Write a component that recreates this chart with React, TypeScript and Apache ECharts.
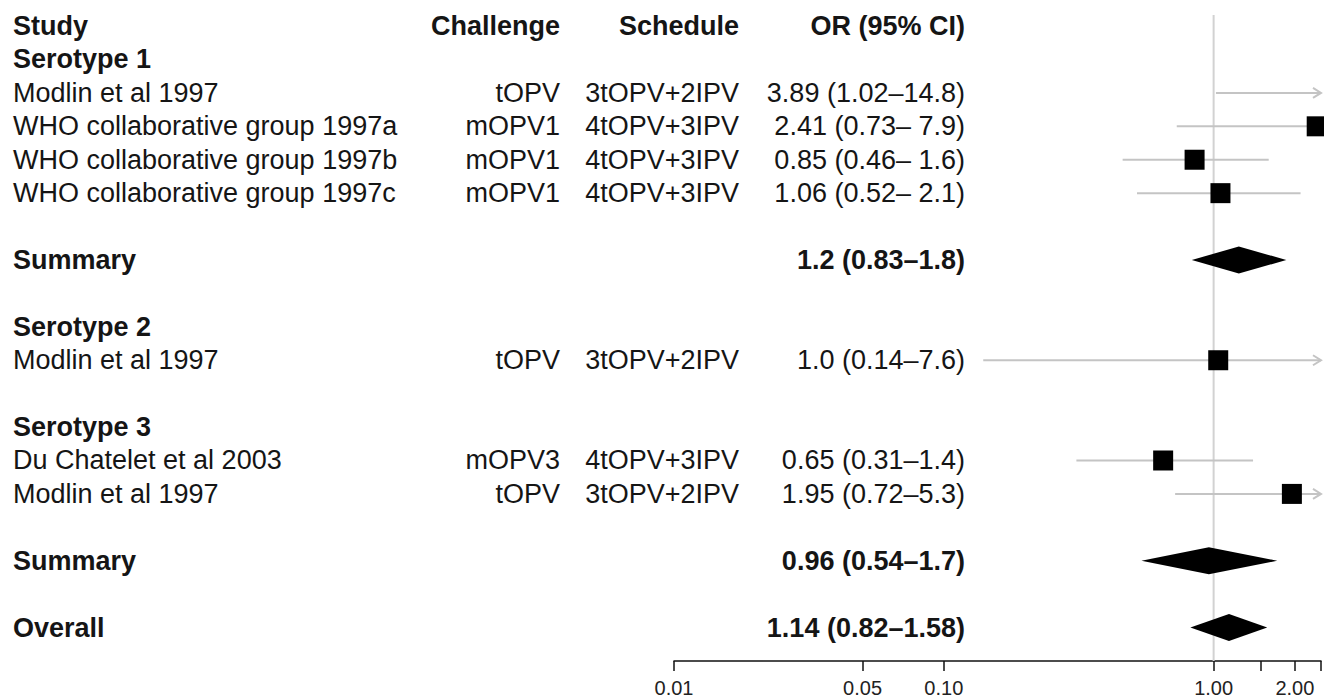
import React, { useEffect, useRef } from "react";
import * as echarts from "echarts";

// ---- Table text (one entry per row, row 0 = header) ----
const studyCol = [
  "Study", "Serotype 1", "Modlin et al 1997", "WHO collaborative group 1997a",
  "WHO collaborative group 1997b", "WHO collaborative group 1997c", "", "Summary", "",
  "Serotype 2", "Modlin et al 1997", "", "Serotype 3", "Du Chatelet et al 2003",
  "Modlin et al 1997", "", "Summary", "", "Overall",
];
const challengeCol = [
  "Challenge", "", "tOPV", "mOPV1", "mOPV1", "mOPV1", "", "", "",
  "", "tOPV", "", "", "mOPV3", "tOPV", "", "", "", "",
];
const scheduleCol = [
  "Schedule", "", "3tOPV+2IPV", "4tOPV+3IPV", "4tOPV+3IPV", "4tOPV+3IPV", "", "", "",
  "", "3tOPV+2IPV", "", "", "4tOPV+3IPV", "3tOPV+2IPV", "", "", "", "",
];
const orCol = [
  "OR (95% CI)", "", "3.89 (1.02\u201314.8)", "2.41 (0.73\u2013 7.9)", "0.85 (0.46\u2013 1.6)",
  "1.06 (0.52\u2013 2.1)", "", "1.2 (0.83\u20131.8)", "", "", "1.0 (0.14\u20137.6)", "", "",
  "0.65 (0.31\u20131.4)", "1.95 (0.72\u20135.3)", "", "0.96 (0.54\u20131.7)", "", "1.14 (0.82\u20131.58)",
];
const boldRows = [0, 1, 7, 9, 12, 16, 18];

// ---- Individual studies ----
const studyRows = [2, 3, 4, 5, 10, 13, 14];
const studyOR = [3.89, 2.41, 0.85, 1.06, 1.04, 0.65, 1.95];
const studyLo = [1.02, 0.73, 0.46, 0.52, 0.14, 0.31, 0.72];
const studyHi = [14.8, 7.9, 1.6, 2.1, 7.6, 1.4, 5.3];

// ---- Pooled estimates (diamonds) ----
const summaryRows = [7, 16, 18];
const summaryOR = [1.24, 0.96, 1.14];
const summaryLo = [0.83, 0.54, 0.82];
const summaryHi = [1.86, 1.72, 1.58];

// ---- Axis ----
const axisMin = 0.01;
const axisMax = 2.5;
const tickValues = [0.01, 0.05, 0.1, 1, 1.5, 2, 2.5];
const labelValues = [0.01, 0.05, 0.1, 1, 2];

const FONT = "'Liberation Sans', Arial, Helvetica, sans-serif";

export default function App() {
  const ref = useRef<HTMLDivElement>(null);

  useEffect(() => {
    const chart = echarts.init(ref.current!, null, { renderer: "svg" });
    const lg = Math.log10;
    const lmin = lg(axisMin);
    const lmax = lg(axisMax);

    const ciData = studyRows.map((r, i) => [
      lg(Math.max(studyLo[i], axisMin)),
      r,
      lg(Math.min(studyHi[i], axisMax)),
      studyHi[i] > axisMax ? 1 : 0,
    ]);
    const boxData = studyRows
      .map((r, i) => [lg(studyOR[i]), r])
      .filter((d) => d[0] <= lmax && d[0] >= lmin);
    const diamondData = summaryRows.map((r, i) => [
      lg(summaryLo[i]),
      r,
      lg(summaryOR[i]),
      lg(summaryHi[i]),
    ]);
    const textData = studyCol.map((_, r) => [lmin, r]);

    const textEl = (text: string, x: number, y: number, align: string, bold: boolean) => ({
      type: "text",
      x,
      y,
      style: {
        text,
        fill: "#151515",
        fontSize: 27,
        fontFamily: FONT,
        fontWeight: bold ? "bold" : "normal",
        align,
        verticalAlign: "middle",
        textAlign: align,
        textVerticalAlign: "middle",
      },
    });

    const option: any = {
      animation: false,
      backgroundColor: "#ffffff",
      grid: { left: 674, right: 3, top: 0, bottom: 38, containLabel: false },
      xAxis: {
        type: "value",
        min: lmin,
        max: lmax,
        splitLine: { show: false },
        axisLine: { show: true, onZero: false, lineStyle: { color: "#111", width: 1.5 } },
        axisTick: {
          show: true,
          customValues: tickValues.map(lg),
          length: 10,
          lineStyle: { color: "#111", width: 1.5 },
        },
        axisLabel: {
          customValues: labelValues.map(lg),
          formatter: (v: number) => Math.pow(10, v).toFixed(2),
          fontSize: 20,
          color: "#222",
          fontFamily: FONT,
          margin: 17,
        },
      },
      yAxis: {
        type: "value",
        min: -0.78,
        max: 19,
        inverse: true,
        show: false,
        axisLine: { onZero: false },
      },
      series: [
        {
          type: "line",
          data: [
            [0, -0.33],
            [0, 19],
          ],
          symbol: "none",
          silent: true,
          clip: false,
          lineStyle: { color: "#d2d2d2", width: 2 },
          z: 1,
        },
        {
          type: "custom",
          data: ciData,
          clip: false,
          z: 2,
          encode: { x: [0, 2], y: 1 },
          renderItem: (params: any, api: any) => {
            const p1 = api.coord([api.value(0), api.value(1)]);
            const p2 = api.coord([api.value(2), api.value(1)]);
            const children: any[] = [
              {
                type: "line",
                shape: { x1: p1[0], y1: p1[1], x2: p2[0], y2: p2[1] },
                style: { stroke: "#c4c4c4", lineWidth: 2 },
              },
            ];
            if (api.value(3) === 1) {
              children.push({
                type: "polyline",
                shape: {
                  points: [
                    [p2[0] - 8, p2[1] - 5],
                    [p2[0], p2[1]],
                    [p2[0] - 8, p2[1] + 5],
                  ],
                },
                style: { stroke: "#c4c4c4", lineWidth: 2, fill: "none" },
              });
            }
            return { type: "group", children };
          },
        },
        {
          type: "scatter",
          data: boxData,
          symbol: "rect",
          symbolSize: 20,
          clip: false,
          z: 3,
          itemStyle: { color: "#000", opacity: 1 },
        },
        {
          type: "custom",
          data: diamondData,
          clip: false,
          z: 3,
          encode: { x: [0, 3], y: 1 },
          renderItem: (params: any, api: any) => {
            const l = api.coord([api.value(0), api.value(1)]);
            const c = api.coord([api.value(2), api.value(1)]);
            const r = api.coord([api.value(3), api.value(1)]);
            const h = 13.5;
            return {
              type: "polygon",
              shape: {
                points: [
                  [l[0], l[1]],
                  [c[0], c[1] - h],
                  [r[0], r[1]],
                  [c[0], c[1] + h],
                ],
              },
              style: { fill: "#000" },
            };
          },
        },
        {
          type: "custom",
          data: textData,
          clip: false,
          silent: true,
          z: 4,
          renderItem: (params: any, api: any) => {
            const r = params.dataIndex;
            const y = api.coord([api.value(0), api.value(1)])[1];
            const bold = boldRows.indexOf(r) >= 0;
            const children: any[] = [];
            if (studyCol[r]) children.push(textEl(studyCol[r], 13, y, "left", bold));
            if (challengeCol[r]) children.push(textEl(challengeCol[r], 560, y, "right", r === 0));
            if (scheduleCol[r]) children.push(textEl(scheduleCol[r], 739, y, "right", r === 0));
            if (orCol[r]) children.push(textEl(orCol[r], 965, y, "right", bold));
            return { type: "group", children };
          },
        },
      ],
    };

    chart.setOption(option);
    return () => chart.dispose();
  }, []);

  return (
    <div
      ref={ref}
      style={{ position: "fixed", left: 0, top: 0, width: 1324, height: 699, background: "#fff" }}
    />
  );
}
